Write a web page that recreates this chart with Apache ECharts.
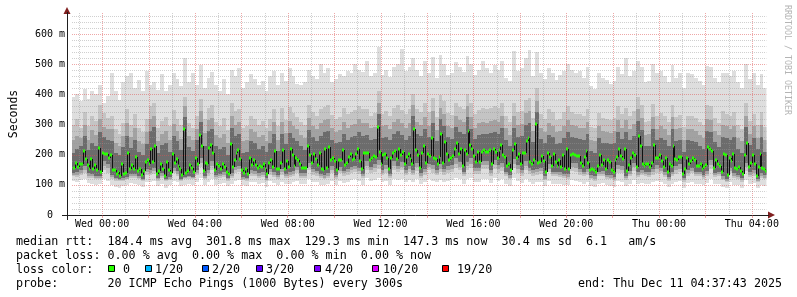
<!DOCTYPE html>
<html><head><meta charset="utf-8">
<script src="https://cdn.jsdelivr.net/npm/echarts@6/dist/echarts.min.js"></script>
<style>html,body{margin:0;padding:0;background:#fff}#c{width:797px;height:297px}</style>
</head><body><div id="c"></div>
<script>
// ---- time base: seconds relative to Wed 00:00 ----
const X_MIN = -4669;          // graph start (Tue 22:42)
const X_MAX = 103063;         // end: Thu Dec 11 04:37:43 2025
const MEDIAN_STEP = 300;
const MEDIAN_T0 = -4500;
const SMOKE_STEP = 600;
const SMOKE_T0 = -4800;

// median rtt (ms), one value per 300 s
const medianRtt = [
156,171,159,170,168,212,185,165,154,187,154,165,148,223,143,207,203,203,190,198,148,148,137,143,130,168,137,140,207,154,165,151,192,146,154,132,145,176,181,170,220,175,230,137,145,170,154,130,176,148,140,203,173,185,163,154,134,284,140,146,
165,156,141,190,170,266,228,145,173,168,223,231,207,148,170,162,151,168,159,141,137,236,159,181,206,217,187,148,140,154,137,190,167,181,165,157,163,159,168,151,135,173,181,159,212,151,154,173,214,152,179,159,218,198,163,190,184,170,157,157,
156,228,198,173,201,187,165,206,154,148,220,157,225,184,190,179,148,181,184,217,165,173,192,201,181,187,203,220,179,154,206,206,206,181,190,195,192,291,209,168,198,203,190,154,190,206,212,187,220,200,208,168,192,203,187,168,286,214,198,157,
206,228,174,201,195,255,190,185,170,192,269,174,241,201,184,190,195,219,238,201,219,162,214,203,280,231,219,195,176,208,176,208,214,208,210,214,168,219,210,188,214,233,198,192,162,170,148,217,236,190,203,168,206,206,245,254,176,168,184,302,173,
176,195,179,143,207,192,162,201,176,162,181,159,200,154,220,151,198,203,198,197,195,173,162,192,212,173,148,154,148,143,162,200,165,181,151,181,176,148,142,181,192,220,195,187,220,145,165,190,206,198,159,263,228,170,162,170,170,159,173,231,
190,190,198,179,159,190,142,170,162,230,187,184,192,192,135,151,190,168,179,190,184,162,162,170,151,159,165,225,220,212,157,184,168,162,143,203,198,132,190,179,201,157,151,159,146,135,198,238,159,173,198,168,130,159,201,157,151,147
];

// smoke (ping distribution, ms), one value per 600 s
const smokeMin = [
112,108,116,120,106,104,100,102,118,112,98,92,90,96,100,106,104,100,94,110,
108,112,96,104,88,98,112,108,96,100,102,98,110,122,100,108,118,100,104,106,
96,104,112,116,98,96,108,110,104,106,94,112,106,100,110,102,104,108,114,104,
104,118,110,108,100,98,104,114,98,112,106,110,116,118,112,100,122,112,116,122,
108,114,100,120,116,118,108,116,108,118,102,110,118,114,108,116,110,112,116,122,
118,104,120,124,110,110,120,120,106,122,112,118,104,96,122,114,106,118,110,104,
108,110,96,114,104,104,102,100,98,116,114,110,104,108,96,92,104,106,98,96,
92,112,110,96,104,116,102,106,104,102,108,112,110,102,94,104,110,114,90,106,
110,104,104,98,106,120,102,104,94,88,110,100,98,90,116,102,106,90,100,96
];
const smokeP10 = [
130,126,132,140,124,122,118,120,150,140,120,114,112,114,118,124,122,118,112,134,
132,136,114,124,112,116,138,130,114,120,120,118,132,160,118,130,150,120,122,126,
114,124,138,142,116,114,130,130,124,126,112,134,126,120,134,122,126,130,140,124,
124,148,134,130,122,118,124,140,118,138,130,134,140,142,136,122,150,138,144,152,
132,140,122,150,142,148,132,142,132,146,124,134,148,140,132,142,134,140,142,156,
148,128,150,156,136,136,152,152,130,154,140,146,128,118,156,140,130,150,136,130,
134,136,116,142,128,128,126,122,120,146,144,134,128,134,118,114,128,130,120,118,
114,140,138,116,130,146,126,132,128,126,134,140,138,126,114,128,136,142,110,130,
138,128,128,120,130,152,126,128,116,108,138,124,120,110,146,126,130,108,124,118
];
const smokeP20 = [
134,133,140,150,130,128,124,124,162,155,126,118,116,117,121,129,128,124,116,142,
140,146,118,130,115,120,146,137,117,123,125,122,140,174,124,138,164,126,128,133,
118,131,148,152,120,118,138,137,131,133,116,142,133,126,142,128,133,137,150,131,
131,160,142,138,129,124,131,150,125,147,138,143,150,152,146,129,163,148,155,166,
140,152,129,164,152,160,140,152,140,158,131,143,158,152,140,154,143,150,153,170,
160,135,162,170,145,145,165,165,138,167,152,158,135,124,170,152,138,163,145,138,
142,145,121,154,135,135,133,129,127,158,157,142,135,142,124,120,135,137,126,124,
120,152,150,122,137,158,133,140,135,133,142,152,147,133,120,135,148,154,116,138,
146,135,135,126,137,166,132,135,121,113,146,131,126,115,158,133,138,113,131,124
];
const smokeP30 = [
138,142,150,162,138,136,131,128,178,168,132,124,120,122,126,136,135,130,121,152,
150,155,123,138,119,125,155,145,121,127,131,127,150,190,130,148,180,133,135,142,
123,140,160,163,126,124,148,146,140,141,122,152,141,134,152,136,141,145,160,140,
139,172,152,147,137,132,139,162,133,158,146,153,160,164,157,137,178,159,168,182,
149,166,137,180,164,175,149,164,149,173,140,153,170,166,150,168,153,161,166,188,
175,144,176,188,155,155,180,180,148,182,165,172,144,132,186,166,148,178,155,148,
152,155,128,168,144,144,141,137,135,172,171,152,144,152,132,128,144,146,134,132,
127,167,163,130,146,172,141,150,144,141,152,166,157,141,127,144,161,168,122,148,
157,144,144,134,146,183,140,144,128,120,157,140,134,122,172,141,148,119,140,132
];
const smokeP70 = [
205,220,230,262,214,240,228,275,258,250,246,205,198,226,262,222,250,210,200,236,
280,292,205,232,238,210,262,244,215,325,225,212,248,310,230,278,285,228,218,226,
200,290,262,270,206,210,246,240,220,228,208,240,268,212,270,236,272,255,246,228,
215,282,258,245,262,275,280,248,238,242,270,250,258,262,276,262,265,250,252,335,
255,260,248,270,278,265,250,262,330,270,262,284,258,305,244,318,295,258,252,292,
275,270,325,286,252,265,270,268,272,275,270,288,250,228,290,260,262,298,305,242,
340,252,238,264,258,235,240,256,276,260,255,252,250,268,212,206,256,240,238,235,
240,276,252,275,248,262,312,282,228,230,286,248,255,248,228,285,245,250,210,248,
246,242,228,218,280,276,242,226,260,255,248,258,218,205,292,232,255,218,258,210
];
const smokeP80 = [
248,262,256,298,250,282,266,318,292,284,284,240,230,262,305,258,290,246,234,274,
318,330,244,268,278,248,302,280,252,360,262,248,286,346,272,314,322,266,254,270,
238,328,300,308,244,250,286,276,258,266,246,278,308,250,310,272,312,294,284,266,
254,322,296,284,304,314,320,288,276,282,310,290,298,302,318,304,306,288,292,372,
294,300,286,310,320,304,290,304,364,308,300,326,296,344,282,356,334,296,290,330,
314,308,362,326,290,304,310,306,312,316,310,328,288,266,330,298,302,338,344,280,
378,290,276,304,296,274,278,296,316,298,294,290,288,308,250,246,294,278,276,272,
278,316,290,314,286,302,350,322,266,268,326,286,294,286,266,324,284,288,250,286,
284,280,266,256,320,316,280,264,300,294,286,296,256,244,330,270,294,256,298,250
];
const smokeP90 = [
300,318,290,342,296,330,312,365,338,322,330,286,270,305,352,300,334,288,276,318,
360,372,290,312,326,294,348,320,298,392,305,290,330,384,318,356,366,310,296,322,
282,372,345,350,288,296,330,318,300,312,290,320,352,296,356,316,358,338,326,310,
298,366,340,328,350,358,364,332,318,326,356,334,342,348,362,350,352,330,338,410,
336,344,330,356,366,348,334,350,402,352,342,370,340,388,326,398,378,338,332,372,
358,352,400,370,334,348,354,350,356,360,354,372,330,308,372,342,346,380,388,322,
420,334,318,350,340,316,320,340,362,342,336,334,330,352,292,288,338,322,320,316,
322,360,334,356,330,346,392,366,310,312,368,330,338,330,310,366,326,332,292,330,
328,322,310,300,364,360,322,306,344,336,330,340,300,286,372,312,336,298,340,292
];
const smokeMax = [
392,400,378,418,386,412,402,430,372,396,470,410,380,440,462,472,420,448,410,478,
430,442,416,468,412,432,470,450,428,520,440,470,430,498,420,456,474,432,410,450,
400,480,462,486,420,442,468,452,430,446,410,460,476,432,470,444,488,460,436,430,
440,480,460,452,500,470,486,440,452,468,460,476,470,500,482,474,512,462,470,556,
466,480,458,490,500,550,476,492,520,480,460,512,470,524,456,530,500,466,472,506,
490,474,528,500,466,480,510,486,470,498,480,510,456,446,545,476,486,520,548,460,
540,470,452,486,470,448,466,476,500,480,470,476,456,490,428,418,470,456,448,436,
446,490,468,520,460,476,510,490,440,446,500,470,478,460,440,496,456,470,420,470,
468,456,446,430,494,490,456,440,472,470,460,476,440,420,500,452,470,430,468,420
];

// axis / grid values
const xLabelTimes = [0, 14400, 28800, 43200, 57600, 72000, 86400, 100800];
const xMajorTimes = [0, 7200, 14400, 21600, 28800, 36000, 43200, 50400, 57600, 64800, 72000, 79200, 86400, 93600, 100800];
const xGridTimes = [];
for (let t = -3600; t <= X_MAX; t += 3600) xGridTimes.push(t);
const Y_MAX = 670;
const yGridValues = [];
for (let v = 20; v < Y_MAX; v += 20) yGridValues.push(v);

// legend content
const legendRtt = 'median rtt:  184.4 ms avg  301.8 ms max  129.3 ms min  147.3 ms now  30.4 ms sd  6.1   am/s';
const legendLoss = 'packet loss: 0.00 % avg  0.00 % max  0.00 % min  0.00 % now';
const lossLabels = ['0', '1/20', '2/20', '3/20', '4/20', '10/20', '19/20'];
const lossColors = ['#26ff00', '#00b8ff', '#0059ff', '#5e00ff', '#7e00ff', '#dd00ff', '#ff0000'];
const probeText = 'probe:       20 ICMP Echo Pings (1000 Bytes) every 300s';
const endText = 'end: Thu Dec 11 04:37:43 2025';

const MONO = "'DejaVu Sans Mono', monospace";
const MAJOR = 'rgba(222,79,79,0.5)';
const MINOR = 'rgba(150,150,150,0.45)';
const GREEN = '#26ff00';

function clipRect(r, cs) {
  return echarts.graphic.clipRectByRect(r, {x: cs.x, y: cs.y, width: cs.width, height: cs.height});
}

function band(lo, hi, color, z) {
  return {
    type: 'custom', z: z, silent: true,
    data: lo.map((v, i) => [SMOKE_T0 + i * SMOKE_STEP, v, hi[i]]),
    encode: {x: 0, y: [1, 2]},
    renderItem(params, api) {
      const t = api.value(0);
      const a = api.coord([t, api.value(2)]);
      const b = api.coord([t + SMOKE_STEP, api.value(1)]);
      const x0 = Math.round(a[0]), x1 = Math.round(b[0]);
      const y0 = Math.round(a[1]), y1 = Math.round(b[1]);
      const r = clipRect({x: x0, y: y0, width: x1 - x0, height: y1 - y0}, params.coordSys);
      return r ? {type: 'rect', shape: r, style: {fill: color}} : null;
    }
  };
}

const series = [
  band(smokeMin, smokeMax, '#dedede', 1),
  band(smokeP10, smokeP90, '#c4c4c4', 2),
  band(smokeP20, smokeP80, '#a2a2a2', 3),
  band(smokeP30, smokeP70, '#6c6c6c', 4),
  {
    type: 'custom', z: 5, silent: true,
    data: xGridTimes.map(t => [t, 0]),
    renderItem(params, api) {
      const t = api.value(0);
      const p = api.coord([t, 0]);
      const cs = params.coordSys;
      const x = Math.round(p[0]) + 0.5;
      return {type: 'line', shape: {x1: x, y1: cs.y, x2: x, y2: cs.y + cs.height},
        style: {stroke: (t % 7200 === 0) ? MAJOR : MINOR, lineWidth: 1, lineDash: [1, 1]}};
    }
  },
  {
    type: 'custom', z: 5, silent: true,
    data: yGridValues.map(v => [X_MIN, v]),
    renderItem(params, api) {
      const v = api.value(1);
      const p = api.coord([X_MIN, v]);
      const cs = params.coordSys;
      const y = Math.round(p[1]) + 0.5;
      return {type: 'line', shape: {x1: cs.x, y1: y, x2: cs.x + cs.width, y2: y},
        style: {stroke: (v % 100 === 0) ? MAJOR : MINOR, lineWidth: 1, lineDash: [1, 1]}};
    }
  },
  {
    type: 'custom', z: 6, silent: true,
    data: medianRtt.map((v, i) => [MEDIAN_T0 + i * MEDIAN_STEP, v, i + 1 < medianRtt.length ? medianRtt[i + 1] : v]),
    encode: {x: 0, y: 1},
    renderItem(params, api) {
      const t = api.value(0), v = api.value(1), vn = api.value(2);
      const a = api.coord([t, v]);
      const b = api.coord([t + MEDIAN_STEP, v]);
      const c = api.coord([t + MEDIAN_STEP, vn]);
      const xa = Math.round(a[0]), xb = Math.round(b[0]);
      const cs = params.coordSys;
      const children = [];
      if (xb < cs.x + cs.width) {
        children.push({type: 'line', shape: {x1: xb + 0.5, y1: Math.round(a[1]), x2: xb + 0.5, y2: Math.round(c[1])},
          style: {stroke: '#111', lineWidth: 1}});
      }
      const r = clipRect({x: xa, y: Math.round(a[1]) - 1.5, width: xb - xa, height: 3}, cs);
      if (r) children.push({type: 'rect', shape: r, style: {fill: GREEN}});
      return {type: 'group', children: children};
    }
  }
];

function txt(x, y, s, extra) {
  return Object.assign({type: 'text', x: x, y: y, silent: true,
    style: {text: s, font: "11.7px 'DejaVu Sans Mono', monospace", fill: '#000', align: 'left', verticalAlign: 'middle'}}, extra || {});
}

const boxX = [108.5, 145.5, 202.5, 256.5, 314.5, 372.5, 442.5];
const lblX = [123, 155, 212, 266, 325, 383, 457];
const graphics = [
  txt(16, 241.5, legendRtt),
  txt(16, 255.5, legendLoss),
  txt(16, 269.5, 'loss color:'),
  txt(16, 283.5, probeText),
  txt(578, 283.5, endText),
  {type: 'text', x: 787, y: 5, rotation: -Math.PI / 2, silent: true,
   style: {text: 'RRDTOOL / TOBI OETIKER', font: "8.3px 'DejaVu Sans Mono', monospace", fill: '#b4b4b4', align: 'left', verticalAlign: 'middle'}},
  {type: 'polygon', silent: true, shape: {points: [[63.5, 14], [70.5, 14], [67, 7]]}, style: {fill: '#801f1f'}},
  {type: 'polygon', silent: true, shape: {points: [[768, 211.5], [768, 218.5], [775, 215]]}, style: {fill: '#801f1f'}},
  {type: 'line', silent: true, shape: {x1: 62, y1: 215.5, x2: 769, y2: 215.5}, style: {stroke: '#1f1f1f', lineWidth: 1}},
  {type: 'line', silent: true, shape: {x1: 67.5, y1: 12, x2: 67.5, y2: 220}, style: {stroke: '#1f1f1f', lineWidth: 1}}
];
lossLabels.forEach((l, i) => {
  graphics.push({type: 'rect', silent: true, shape: {x: boxX[i], y: 265.5, width: 6, height: 6},
    style: {fill: lossColors[i], stroke: '#000', lineWidth: 1}});
  graphics.push(txt(lblX[i], 269.5, l));
});

const chart = echarts.init(document.getElementById('c'), null, {renderer: 'canvas', width: 797, height: 297});
chart.setOption({
  animation: false,
  backgroundColor: '#ffffff',
  grid: {left: 67, top: 13, width: 699.4, height: 202, containLabel: false},
  xAxis: {
    type: 'value', min: X_MIN, max: X_MAX,
    axisLine: {show: false},
    splitLine: {show: false},
    axisTick: {show: true, customValues: xMajorTimes, length: 3, inside: false,
      lineStyle: {color: MAJOR}},
    axisLabel: {
      customValues: xLabelTimes, margin: 4,
      fontFamily: MONO, fontSize: 10, color: '#000',
      formatter(v) {
        const day = v < 86400 ? 'Wed' : 'Thu';
        const h = Math.round(((v % 86400) + 86400) % 86400 / 3600);
        return day + ' ' + String(h).padStart(2, '0') + ':00';
      }
    }
  },
  yAxis: {
    type: 'value', min: 0, max: Y_MAX, interval: 100,
    axisLine: {show: false},
    axisTick: {show: false},
    splitLine: {show: false},
    name: 'Seconds', nameLocation: 'middle', nameGap: 52, nameRotate: 90,
    nameTextStyle: {fontFamily: MONO, fontSize: 11.5, color: '#000'},
    axisLabel: {
      margin: 7, fontFamily: MONO, fontSize: 10, color: '#000',
      formatter(v) { return v % 100 !== 0 ? '' : (v === 0 ? '0  ' : v + ' m'); }
    }
  },
  series: series,
  graphic: graphics
});
</script>
</body></html>
